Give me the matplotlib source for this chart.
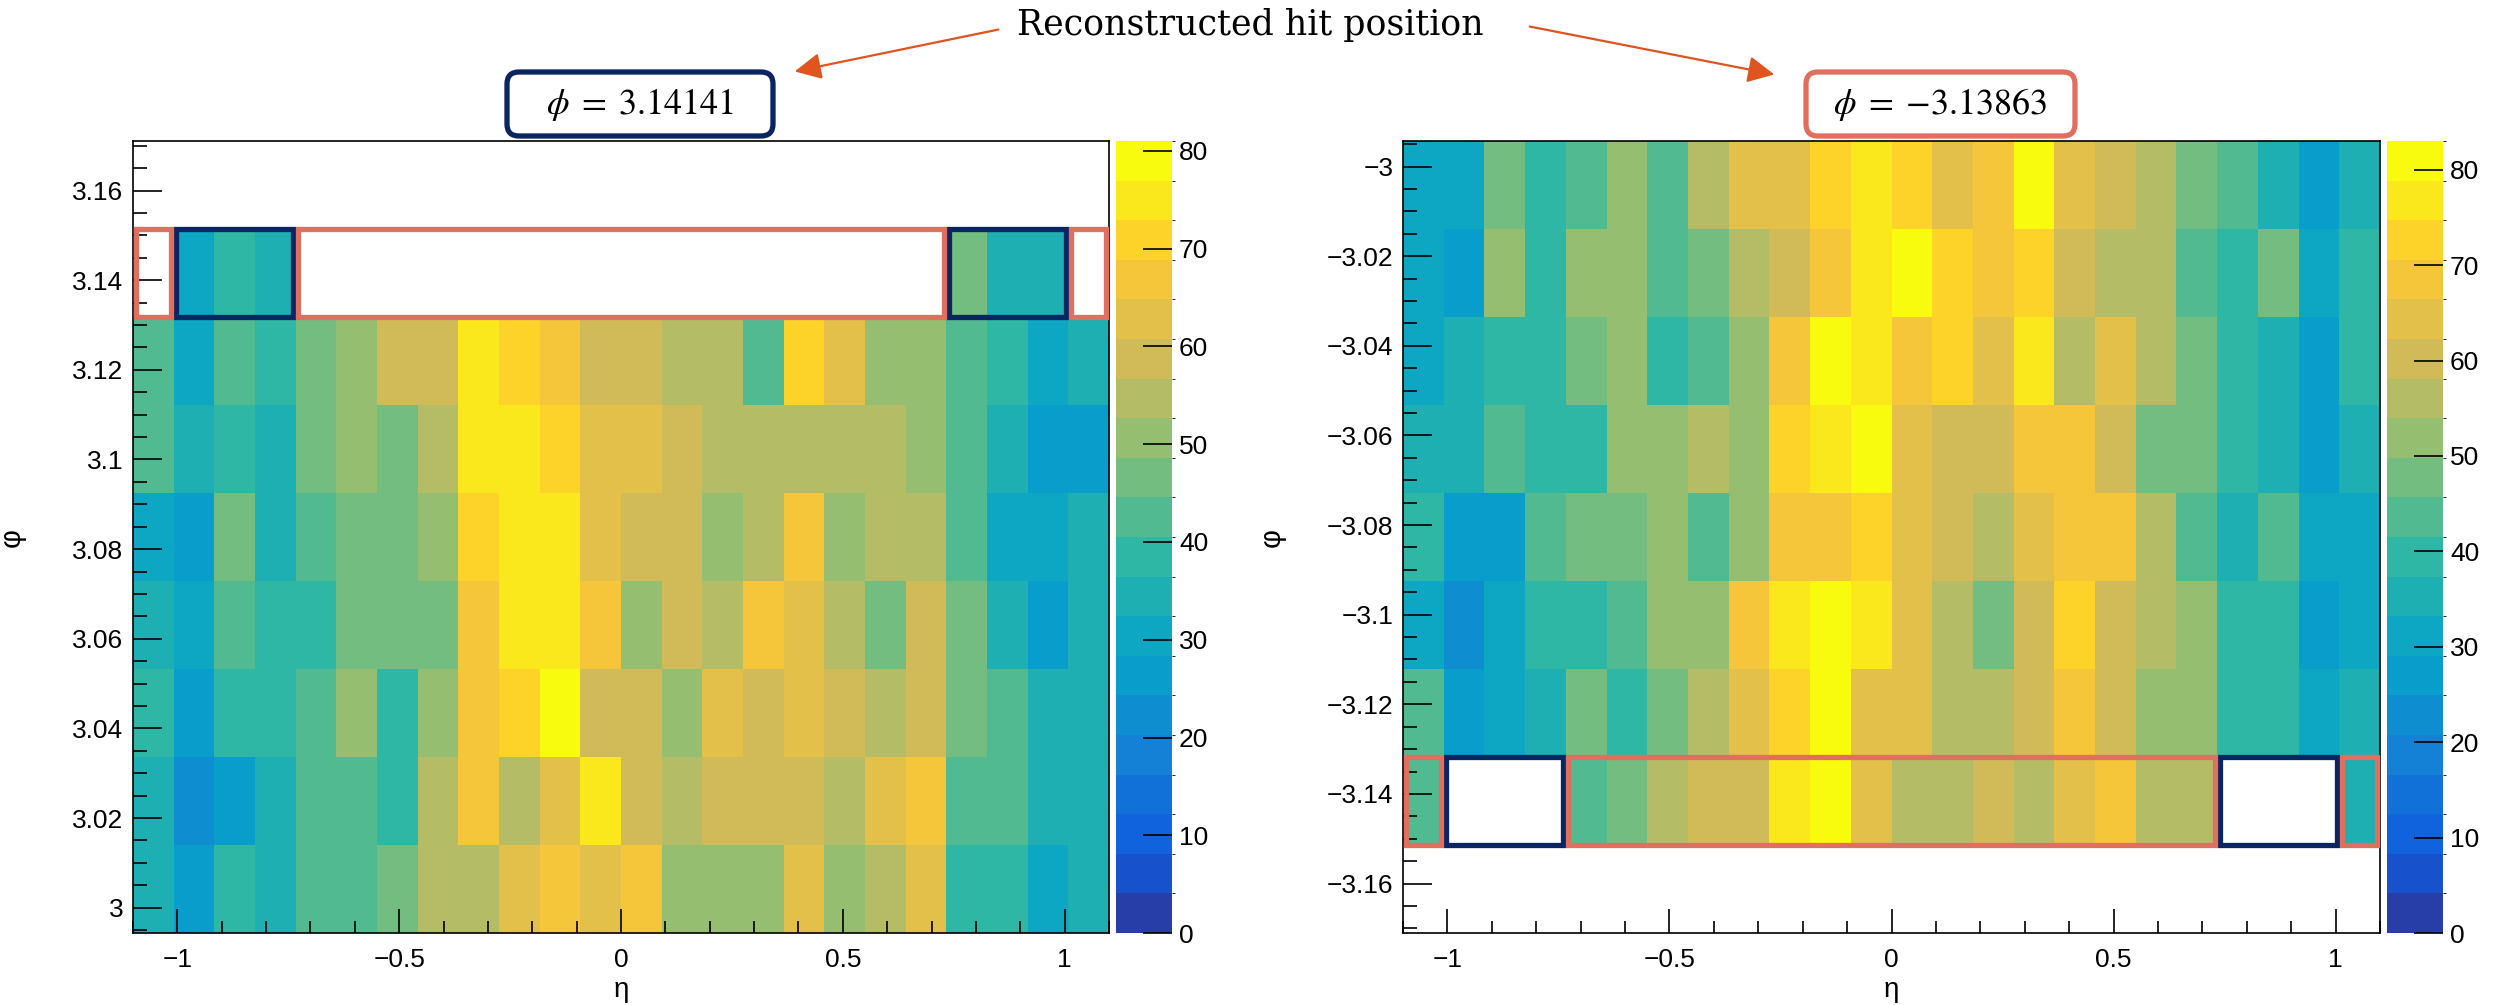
import numpy as np
import matplotlib
matplotlib.use("Agg")
import matplotlib.pyplot as plt
from matplotlib.colors import LinearSegmentedColormap, ListedColormap, BoundaryNorm
from matplotlib.patches import Rectangle, FancyBboxPatch, FancyArrowPatch
from matplotlib.ticker import MultipleLocator, FuncFormatter
import matplotlib.cm as cm

plt.rcParams['font.family'] = ['Liberation Sans', 'DejaVu Sans']
plt.rcParams['mathtext.fontset'] = 'stix'

# binning of both histograms
eta_edges = np.linspace(-1.1, 1.1, 25)
phi_bin = 2 * np.pi / 320

# hit counts, rows from top to bottom; 0 = empty bin
# left: top row is phi = pi, the next rows go down in phi
left_counts = [
    [0, 30, 38, 34, 0, 0, 0, 0, 0, 0, 0, 0, 0, 0, 0, 0, 0, 0, 0, 0, 47, 34, 34, 0],
    [43, 30, 43, 38, 47, 51, 59, 59, 75, 71, 67, 59, 59, 55, 55, 43, 71, 63, 51, 51, 43, 38, 30, 34],
    [43, 34, 38, 34, 47, 51, 47, 55, 75, 75, 71, 63, 63, 59, 55, 55, 55, 55, 55, 51, 43, 34, 26, 26],
    [30, 26, 47, 34, 43, 47, 47, 51, 71, 75, 75, 63, 59, 59, 51, 55, 67, 51, 55, 55, 43, 30, 30, 34],
    [34, 30, 43, 38, 38, 47, 47, 47, 67, 75, 75, 67, 51, 59, 55, 67, 63, 55, 47, 59, 47, 34, 26, 34],
    [38, 26, 38, 38, 43, 51, 38, 51, 67, 71, 81, 59, 59, 51, 63, 59, 63, 59, 55, 59, 47, 43, 34, 34],
    [34, 22, 26, 34, 43, 43, 38, 55, 67, 55, 63, 75, 59, 55, 59, 59, 59, 55, 63, 67, 43, 43, 34, 34],
    [34, 26, 38, 34, 43, 43, 47, 55, 55, 63, 67, 63, 67, 51, 51, 51, 63, 51, 55, 63, 38, 38, 30, 34],
]
# right: bottom row is phi = -pi
right_counts = [
    [31, 31, 48, 39, 44, 52, 44, 56, 64, 64, 73, 77, 73, 64, 68, 83, 64, 60, 56, 48, 44, 35, 27, 35],
    [31, 27, 52, 39, 52, 52, 44, 48, 56, 60, 68, 77, 81, 73, 68, 73, 60, 56, 56, 44, 39, 48, 31, 39],
    [31, 35, 39, 39, 48, 52, 39, 44, 52, 68, 81, 77, 68, 73, 64, 77, 56, 64, 56, 48, 39, 35, 27, 39],
    [35, 35, 44, 39, 39, 52, 52, 56, 52, 73, 77, 81, 64, 60, 60, 68, 68, 60, 48, 48, 39, 35, 27, 35],
    [39, 27, 27, 44, 48, 48, 52, 44, 52, 68, 68, 73, 64, 60, 56, 64, 68, 68, 56, 44, 35, 44, 31, 31],
    [31, 23, 31, 39, 39, 44, 52, 52, 68, 77, 81, 77, 64, 56, 48, 60, 73, 60, 56, 52, 39, 39, 27, 31],
    [44, 27, 31, 35, 48, 39, 48, 56, 64, 73, 81, 64, 64, 56, 56, 60, 68, 60, 52, 52, 39, 39, 31, 35],
    [44, 0, 0, 0, 44, 48, 56, 60, 60, 77, 81, 64, 56, 56, 60, 56, 64, 68, 56, 56, 0, 0, 0, 35],
]

titles = [r"$\phi\;=\;3.14141$", r"$\phi\;=\;{-}3.13863$"]
note = "Reconstructed hit position"

# boxes on the phi = +-pi row (first column, last column)
red_boxes = [(0, 0), (4, 19), (23, 23)]
navy_boxes = [(1, 3), (20, 22)]

RED = "#E06F60"
NAVY = "#0B2462"
ARROW = "#E0541F"

# ROOT kBird palette, 20 contour levels
stops = [0.0, 0.125, 0.25, 0.375, 0.5, 0.625, 0.75, 0.875, 1.0]
red = [0.2082, 0.0592, 0.0780, 0.0232, 0.1802, 0.5301, 0.8186, 0.9956, 0.9764]
green = [0.1664, 0.3599, 0.5041, 0.6419, 0.7178, 0.7492, 0.7328, 0.7862, 0.9832]
blue = [0.5293, 0.8684, 0.8385, 0.7914, 0.6425, 0.4662, 0.3499, 0.1968, 0.0539]
bird = LinearSegmentedColormap.from_list("bird", list(zip(stops, zip(red, green, blue))), N=255)
ncont = 20
cmap = ListedColormap([bird((k + 0.99) / ncont) for k in range(ncont)])


def fmt(v, pos):
    s = "%g" % round(v, 4)
    return s.replace("-", "\u2212")


fig = plt.figure(figsize=(24.99, 10.05), dpi=100)

panels = [
    (left_counts, np.pi, 1, [133 / 2499, 0.0716, 976 / 2499, 0.788], [1116 / 2499, 0.0716, 56 / 2499, 0.788], -0.110),
    (right_counts, -np.pi, -1, [1403 / 2499, 0.0716, 977 / 2499, 0.788], [2387 / 2499, 0.0716, 56 / 2499, 0.788], -0.120),
]

for counts, phi_edge, side, apos, cpos, ylab_x in panels:
    ax = fig.add_axes(apos)
    z = np.array(counts, dtype=float)[::-1]
    z = np.ma.masked_equal(z, 0)
    if side == 1:
        lo = phi_edge - 7.5 * phi_bin
        ylim = (lo, phi_edge + 1.5 * phi_bin)
    else:
        lo = phi_edge - 0.5 * phi_bin
        ylim = (phi_edge - 1.5 * phi_bin, phi_edge + 7.5 * phi_bin)
    phi_edges = lo + phi_bin * np.arange(9)
    vmax = z.max()
    norm = BoundaryNorm(np.linspace(0, vmax, ncont + 1), ncolors=ncont, clip=True)
    ax.pcolormesh(eta_edges, phi_edges, z, cmap=cmap, norm=norm)
    ax.set_xlim(-1.1, 1.1)
    ax.set_ylim(*ylim)

    ax.xaxis.set_major_locator(MultipleLocator(0.5))
    ax.xaxis.set_minor_locator(MultipleLocator(0.1))
    ax.yaxis.set_major_locator(MultipleLocator(0.02))
    ax.yaxis.set_minor_locator(MultipleLocator(0.005))
    ax.xaxis.set_major_formatter(FuncFormatter(fmt))
    ax.yaxis.set_major_formatter(FuncFormatter(fmt))
    ax.tick_params(axis='x', which='major', direction='in', length=17, width=1.2, labelsize=19, pad=11)
    ax.tick_params(axis='x', which='minor', direction='in', length=8.5, width=1.2)
    ax.tick_params(axis='y', which='major', direction='in', length=21, width=1.2, labelsize=19, pad=7)
    ax.tick_params(axis='y', which='minor', direction='in', length=10, width=1.2)
    for sp in ax.spines.values():
        sp.set_linewidth(1.2)
    ax.set_xlabel("η", fontsize=20)
    ax.xaxis.set_label_coords(0.5, -0.055)
    ax.set_ylabel("φ", fontsize=21)
    ax.yaxis.set_label_coords(ylab_x, 0.5)

    # boxes on the row at phi = +-pi
    inset = 0.006
    for boxes, col in [(navy_boxes, NAVY), (red_boxes, RED)]:
        for c0, c1 in boxes:
            x0 = eta_edges[c0] + inset
            w = eta_edges[c1 + 1] - eta_edges[c0] - 2 * inset
            ax.add_patch(Rectangle((x0, phi_edge - phi_bin / 2), w, phi_bin, fill=False,
                                   edgecolor=col, linewidth=3.8, clip_on=False, zorder=5))

    cax = fig.add_axes(cpos)
    cb = fig.colorbar(cm.ScalarMappable(norm=norm, cmap=cmap), cax=cax, ticks=np.arange(0, 81, 10))
    cb.outline.set_visible(False)
    cax.tick_params(direction='in', length=21, width=1.2, labelsize=19, pad=5)

# title boxes (drawn in inches)
tr = fig.dpi_scale_trans
for (x0, x1), txt, col in [((5.07, 7.73), titles[0], NAVY), ((18.06, 20.75), titles[1], RED)]:
    box = FancyBboxPatch((x0, 8.69), x1 - x0, 0.64, boxstyle="round,pad=0,rounding_size=0.12",
                         transform=tr, facecolor="white", edgecolor=col, linewidth=3.8)
    fig.patches.append(box)
    fig.text((x0 + x1) / 2, 9.01, txt, transform=tr, ha="center", va="center", fontsize=26)

fig.text(12.5, 9.80, note, transform=tr, ha="center", va="center", fontsize=25, family="DejaVu Serif")

for tail, head in [((10.01, 9.76), (7.92, 9.33)), ((15.27, 9.79), (17.77, 9.30))]:
    arr = FancyArrowPatch(tail, head, transform=tr, arrowstyle="-|>,head_length=0.9,head_width=0.45",
                          mutation_scale=18, color=ARROW, linewidth=1.6)
    fig.patches.append(arr)

fig.savefig("out.png", dpi=100)
